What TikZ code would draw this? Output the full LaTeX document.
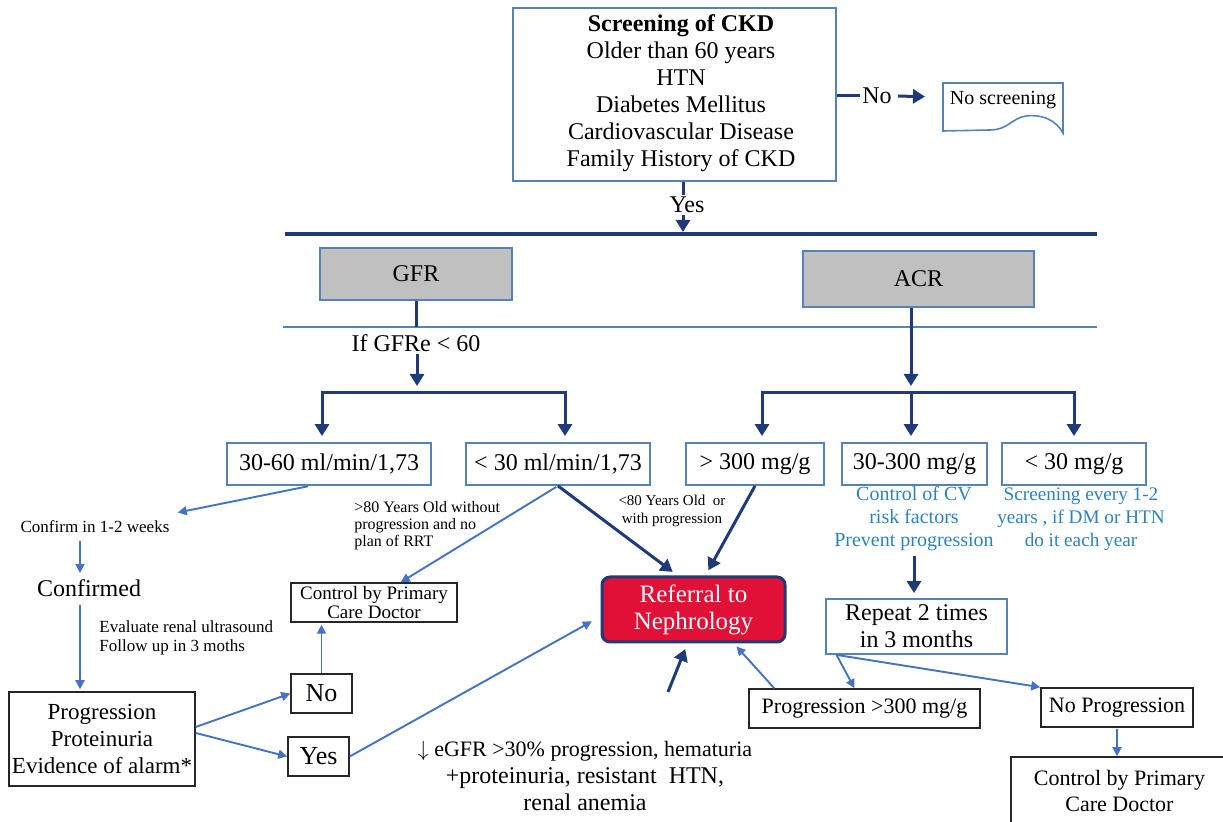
\documentclass[tikz,border=0pt]{standalone}
\usepackage{fontspec}
\setmainfont{Liberation Serif}
\usetikzlibrary{arrows.meta}

\definecolor{navy}{RGB}{31,58,120}
\definecolor{steel}{RGB}{84,130,185}
\definecolor{lblue}{RGB}{68,114,196}
\definecolor{tealtxt}{RGB}{45,130,190}
\definecolor{boxgray}{RGB}{191,192,191}
\definecolor{refred}{RGB}{225,16,55}

\tikzset{
  navytip/.tip={Triangle[length=6pt,width=7pt]},
  thintip/.tip={Triangle[length=4.5pt,width=4.5pt]},
}

\begin{document}
\begin{tikzpicture}[x=0.5pt,y=-0.5pt,
  every node/.style={inner sep=1pt, font=\fontsize{12}{13.5}\selectfont, align=center},
  bluebox/.style={draw=steel, line width=0.9pt, inner sep=0pt},
  blackbox/.style={draw=black!85, line width=0.75pt, inner sep=0pt},
  graybox/.style={draw=steel, fill=boxgray, line width=0.8pt, inner sep=0pt},
  navyline/.style={draw=navy, line width=1.5pt},
  navyarrow/.style={navyline, -navytip},
  thinarrow/.style={draw=lblue, line width=0.95pt, -thintip},
  small/.style={font=\fontsize{8.5}{9.5}\selectfont},
  ]
  \path[use as bounding box] (0,0) rectangle (1223,822);

  % screening and the two tests
  \node[bluebox, minimum width=161.5pt, minimum height=86.5pt] (scr) at (674.5,94.5) {};
  \node (scrtxt) at (681,93)
    {\textbf{Screening of CKD}\\Older than 60 years\\HTN\\Diabetes Mellitus\\Cardiovascular Disease\\Family History of CKD};
  \node (nolab) at (877,96) {No};
  \node[font=\fontsize{10}{11}\selectfont] (nosc) at (1003,100) {No screening};
  \coordinate (docw) at (943,97);
  \draw[steel, line width=0.8pt] (943,131) -- (943,83) -- (1063,83) -- (1063,133)
    .. controls (1056,120) and (1042,114) .. (1026,116)
    .. controls (1012,118) and (1008,130) .. (990,130) -- cycle;
  \node (yeslab) at (687,205) {Yes};
  \coordinate (yx) at (683,0);
  \coordinate (bar1l) at (285,234); \coordinate (bar1r) at (1097,234);
  \coordinate (bar2l) at (283,327); \coordinate (bar2r) at (1097,327);
  \node[graybox, minimum width=96pt, minimum height=26pt] (gfr) at (416,274) {GFR};
  \node[graybox, minimum width=115.5pt, minimum height=28pt] (acr) at (918.5,279) {ACR};
  \node (ifg) at (416,343) {If GFRe < 60};

  % levels
  \node[bluebox, minimum width=102pt, minimum height=21pt] (g1) at (329,464) {30-60 ml/min/1,73};
  \node[bluebox, minimum width=92pt, minimum height=21pt] (g2) at (558,464) {< 30 ml/min/1,73};
  \node[bluebox, minimum width=69pt, minimum height=21pt] (a1) at (755,464) {> 300 mg/g};
  \node[bluebox, minimum width=72.5pt, minimum height=21pt] (a2) at (914.5,464) {30-300 mg/g};
  \node[bluebox, minimum width=72pt, minimum height=21pt] (a3) at (1074,464) {< 30 mg/g};
  \node[font=\fontsize{10}{11.5}\selectfont, text=tealtxt] (cv) at (914,519)
    {Control of CV\\risk factors\\Prevent progression};
  \node[font=\fontsize{9.6}{11.5}\selectfont, text=tealtxt] (scn) at (1081,519)
    {Screening every 1-2\\years , if DM or HTN\\do it each year};

  % right branch
  \node[bluebox, minimum width=90.5pt, minimum height=27.5pt] (rep) at (916.5,626.5) {Repeat 2 times\\in 3 months};
  \node[blackbox, minimum width=115.5pt, minimum height=19.5pt, font=\fontsize{11}{13}\selectfont] (prog) at (864.5,708.5)
    {Progression >300 mg/g};
  \node[blackbox, minimum width=76pt, minimum height=19.5pt, font=\fontsize{11}{13}\selectfont] (nop) at (1117,707.5) {No Progression};
  \node[blackbox, minimum width=108.5pt, minimum height=34pt, font=\fontsize{11}{13}\selectfont] (pcd2) at (1119.5,791)
    {Control by Primary\\Care Doctor};

  % referral
  \node[draw=navy, line width=1.5pt, fill=refred, rounded corners=4pt, text=white,
    minimum width=91.5pt, minimum height=32.5pt, font=\fontsize{12.5}{13.5}\selectfont] (ref) at (693.5,609.5)
    {Referral to\\Nephrology};
  \node[font=\fontsize{7.5}{9}\selectfont] (lt80) at (672,511) {<80 Years Old~ or\\with progression};
  \coordinate (egt) at (668,692);
  \node (eg) at (585,776) {{\fontsize{11}{13.5}\selectfont$\downarrow$ eGFR >30\% progression, hematuria}\\+proteinuria, resistant~ HTN,\\renal anemia};

  % left branch
  \node[small] (conf) at (95,527) {Confirm in 1-2 weeks};
  \node (cfd) at (89,588) {Confirmed};
  \node[small, align=left, anchor=west] (ev) at (97,638) {Evaluate renal ultrasound\\Follow up in 3 moths};
  \node[blackbox, minimum width=93pt, minimum height=47pt, font=\fontsize{11.5}{13.5}\selectfont] (pp) at (102,739)
    {Progression\\Proteinuria\\Evidence of alarm*};
  \node[blackbox, minimum width=30.5pt, minimum height=19.5pt, font=\fontsize{13}{14}\selectfont] (nb) at (321.5,693.5) {No};
  \node[blackbox, minimum width=30.5pt, minimum height=19.5pt, font=\fontsize{13}{14}\selectfont] (yb) at (318.5,756.5) {Yes};
  \node[blackbox, minimum width=83pt, minimum height=19.5pt, font=\fontsize{9.5}{9.5}\selectfont] (pcd1) at (374,602.5)
    {Control by Primary\\Care Doctor};
  \node[font=\fontsize{8}{8.5}\selectfont, align=left, anchor=west] (old) at (352,526)
    {>80 Years Old without\\progression and no\\plan of RRT};
  \coordinate (lx) at (80,0);

  % connectors
  \draw[navyline] (nolab.west -| scr.east) -- (nolab.west);
  \draw[navyarrow, shorten <=2pt, shorten >=9pt] (nolab.east) -- (docw);
  \draw[navyline] (scr.south -| yx) -- (yeslab.north -| yx);
  \draw[navyarrow, shorten >=1pt] (yeslab.south -| yx) -- (bar1l -| yx);
  \draw[navy, line width=1.6pt] (bar1l) -- (bar1r);
  \draw[steel, line width=0.8pt] (bar2l) -- (bar2r);
  \draw[navyline] (gfr.south) -- (gfr.south |- bar2l);

  \coordinate (gl) at (322,393); \coordinate (gm) at (417,393); \coordinate (gr) at (565,393);
  \draw[navyarrow, shorten >=3.5pt] (ifg.south -| gm) -- (gm);
  \draw[navyline, navytip-navytip, shorten <=3pt, shorten >=3pt] (g1.north -| gl) -- (gl) -- (gr) -- (g2.north -| gr);
  \coordinate (al) at (762,393); \coordinate (am) at (911,393); \coordinate (ar) at (1074,393);
  \draw[navyarrow, shorten >=3.5pt] (acr.south -| am) -- (am);
  \draw[navyline, navytip-navytip, shorten <=3pt, shorten >=3pt] (a1.north -| al) -- (al) -- (ar) -- (a3.north -| ar);
  \draw[navyarrow, shorten >=3pt] (am) -- (a2.north -| am);

  \draw[navyarrow, shorten <=1pt, shorten >=2.5pt] (cv.south) -- (cv.south |- rep.north);
  \draw[thinarrow] ([xshift=-40pt]rep.south) -- ([xshift=-5pt]prog.north);
  \draw[thinarrow] ([xshift=-40pt]rep.south) -- (nop.north west);
  \draw[thinarrow, shorten <=0.5pt] (nop.south) -- (nop.south |- pcd2.north);
  \draw[thinarrow] ([xshift=13pt]prog.north west) -- ([xshift=-25pt,yshift=-1.5pt]ref.south east);

  \draw[navyarrow, shorten >=3pt] (g2.south) -- ([xshift=-8pt]ref.north);
  \draw[navyarrow, shorten >=3pt] (a1.south) -- ([xshift=6pt]ref.north);
  \draw[navyarrow, shorten >=3pt] (egt) -- ([xshift=-3pt]ref.south);

  \draw[thinarrow, shorten <=1pt] ([xshift=-9.5pt]g1.south) -- ([shift={(3pt,3pt)}]conf.north east);
  \draw[thinarrow, shorten <=3pt, shorten >=2pt] (conf.south -| lx) -- (cfd.north -| lx);
  \draw[thinarrow, shorten <=3pt, shorten >=1pt] (cfd.south -| lx) -- (pp.north -| lx);
  \draw[thinarrow] ([yshift=6pt]pp.east) -- (nb.west);
  \draw[thinarrow] ([yshift=3pt]pp.east) -- (yb.west);
  \draw[thinarrow, shorten >=1pt] (nb.north) -- (nb.north |- pcd1.south);
  \draw[thinarrow, shorten <=1pt] (g2.south) -- ([xshift=-28.5pt]pcd1.north east);
  \draw[thinarrow, shorten >=5pt] (yb.east) -- ([yshift=-3.5pt]ref.west);
\end{tikzpicture}
\end{document}
